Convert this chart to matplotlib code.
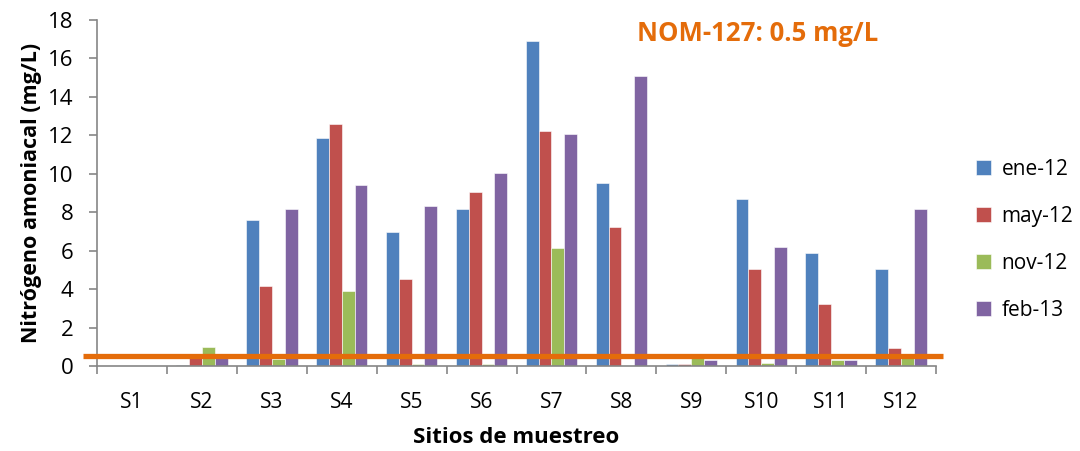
import numpy as np
import matplotlib
matplotlib.use("Agg")
import matplotlib.pyplot as plt
import matplotlib.transforms as mtransforms

plt.rcParams['font.family'] = ['Open Sans', 'DejaVu Sans']

# Sitios y campañas de muestreo
sitios = ['S1', 'S2', 'S3', 'S4', 'S5', 'S6', 'S7', 'S8', 'S9', 'S10', 'S11', 'S12']
campanas = ['ene-12', 'may-12', 'nov-12', 'feb-13']

ene_12 = [0.0, 0.05, 7.6, 11.85, 6.95, 8.15, 16.9, 9.5, 0.1, 8.7, 5.9, 5.05]
may_12 = [0.0, 0.62, 4.15, 12.6, 4.5, 9.05, 12.2, 7.25, 0.1, 5.05, 3.2, 0.95]
nov_12 = [0.0, 0.98, 0.35, 3.9, 0.1, 0.1, 6.15, 0.0, 0.42, 0.15, 0.3, 0.57]
feb_13 = [0.0, 0.55, 8.15, 9.4, 8.3, 10.05, 12.05, 15.1, 0.3, 6.2, 0.3, 8.15]

norma = 0.5  # NOM-127 (mg/L)

colores = ['#4F81BD', '#C0504D', '#9BBB59', '#8064A2']
series = [ene_12, may_12, nov_12, feb_13]

fig = plt.figure(figsize=(10.8, 4.51), dpi=100)
ax = fig.add_axes([0.0898, 0.1885, 0.7769, 0.7672])

x = np.arange(len(sitios))
ancho = 0.184
for i, (valores, color, nombre) in enumerate(zip(series, colores, campanas)):
    ax.bar(x + (i - 1.5) * ancho, valores, ancho, color=color, label=nombre,
           edgecolor='white', linewidth=0.4, zorder=2)

# línea de la norma, algo más larga que el eje
trans = mtransforms.blended_transform_factory(ax.transAxes, ax.transData)
ax.plot([-0.017, 1.008], [norma, norma], color='#E46C0A', linewidth=3.8,
        transform=trans, clip_on=False, zorder=3, solid_capstyle='butt')

ax.set_xlim(-0.5, len(sitios) - 0.5)
ax.set_ylim(0, 18)
ax.set_yticks(np.arange(0, 19, 2))

ax.set_xticks(np.arange(-0.5, len(sitios), 1))
ax.set_xticklabels([])
ax.set_xticks(x, minor=True)
ax.set_xticklabels(sitios, minor=True)
ax.tick_params(axis='x', which='minor', length=0, pad=19, labelsize=15)
ax.tick_params(axis='x', which='major', length=6, width=1.2, color='#868686')
ax.tick_params(axis='y', length=6, width=1.2, color='#868686', labelsize=16, pad=11)

for lado in ['top', 'right']:
    ax.spines[lado].set_visible(False)
for lado in ['left', 'bottom']:
    ax.spines[lado].set_color('#868686')
    ax.spines[lado].set_linewidth(1.2)

ax.set_xlabel('Sitios de muestreo', fontsize=16, fontweight='bold', labelpad=10)
ax.set_ylabel('Nitrógeno amoniacal (mg/L)', fontsize=15.5, fontweight='bold', labelpad=4)

fig.text(0.59, 0.925, 'NOM-127: 0.5 mg/L', color='#E46C0A', fontsize=18.5,
         fontweight='bold', ha='left', va='center')

fig.legend(loc='center left', bbox_to_anchor=(0.886, 0.468), frameon=False,
           fontsize=15, handlelength=0.75, handleheight=0.75, handletextpad=0.5,
           labelspacing=1.25)

fig.savefig('out.png', dpi=100, facecolor='white')
